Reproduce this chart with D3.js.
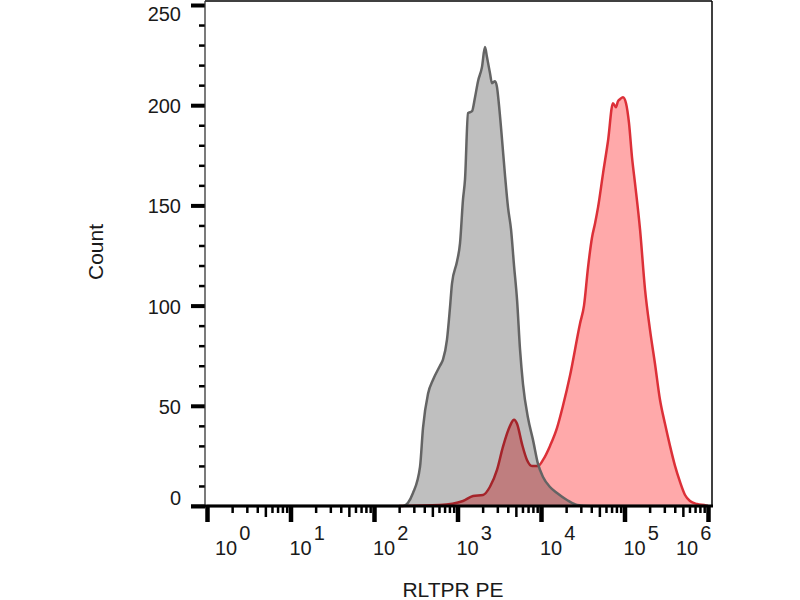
<!DOCTYPE html>
<html>
<head>
<meta charset="utf-8">
<script src="https://cdn.jsdelivr.net/npm/d3@7/dist/d3.min.js"></script>
<style>
  html, body { margin: 0; padding: 0; background: #fff; }
  svg { display: block; }
  text { font-family: "Liberation Sans", Arial, sans-serif; fill: #1a1a1a; }
</style>
</head>
<body>
<svg id="chart" width="800" height="600"></svg>
<script>
// ---- Data (x = log10 of fluorescence intensity, y = cell count) ----
const isotypeLog   = [0, 2.347, 2.467, 2.551, 2.587, 2.647, 2.707, 2.790, 2.826, 2.874, 2.910, 2.934, 2.994, 3.030, 3.066, 3.090, 3.126, 3.174, 3.210, 3.246, 3.293, 3.329, 3.353, 3.389, 3.413, 3.449, 3.473, 3.497, 3.533, 3.569, 3.605, 3.641, 3.677, 3.713, 3.749, 3.784, 3.844, 3.904, 3.964, 4.024, 4.108, 4.192, 4.311, 4.431, 4.587, 6];
const isotypeCount = [0, 0, 6.5, 19.5, 39, 56, 63, 70, 73, 83, 99, 111, 122, 131, 153, 163, 196, 197, 204, 212, 219, 229, 224, 216, 211, 212, 209, 200, 183, 165, 149, 138, 120, 103, 78, 61, 44, 33, 21, 14.5, 9.5, 6.5, 3, 0.5, 0, 0];

const stainedLog   = [2.3, 2.790, 3.066, 3.186, 3.305, 3.389, 3.473, 3.545, 3.629, 3.677, 3.713, 3.772, 3.832, 3.892, 3.964, 4.024, 4.108, 4.192, 4.263, 4.347, 4.467, 4.515, 4.563, 4.611, 4.647, 4.683, 4.743, 4.802, 4.862, 4.898, 4.922, 4.946, 4.982, 5.018, 5.054, 5.090, 5.126, 5.186, 5.246, 5.305, 5.365, 5.425, 5.485, 5.545, 5.605, 5.665, 5.725, 5.784, 5.868, 5.976, 6];
const stainedCount = [0, 0.5, 2.5, 5, 5.5, 9.6, 18, 29.6, 40, 43, 41, 31, 23, 20, 20, 23, 30, 39, 50, 65, 91, 100, 119, 134, 141, 149, 166, 182, 201, 199, 202, 203, 204, 201, 191, 174, 161, 138, 108, 88, 71, 53, 41, 30, 20, 12, 5.5, 2.5, 1, 0.3, 0];

const yMajorTicks = [0, 50, 100, 150, 200, 250];
const xDecades = [0, 1, 2, 3, 4, 5, 6];
const xTitle = "RLTPR PE";
const yTitle = "Count";

// ---- Layout ----
const svg = d3.select("#chart");
const x = d3.scaleLog().domain([1, 1e6]).range([207, 708]);
const y = d3.scaleLinear().domain([0, 250]).range([506, 5]);

const stained = stainedLog.map((v, i) => ({ v: Math.pow(10, v), c: stainedCount[i] }));
const isotype = isotypeLog.map((v, i) => ({ v: Math.pow(10, v), c: isotypeCount[i] }));

const area = d3.area().x(d => x(d.v)).y0(y(0)).y1(d => y(d.c)).curve(d3.curveMonotoneX);
const line = d3.line().x(d => x(d.v)).y(d => y(d.c)).curve(d3.curveMonotoneX);

// stained (red) histogram
svg.append("path").datum(stained).attr("d", area).attr("fill", "#ffa9aa");
svg.append("path").datum(stained).attr("d", line).attr("fill", "none")
  .attr("stroke", "#dc3038").attr("stroke-width", 2.5).attr("stroke-linejoin", "round");

// isotype (gray) histogram, translucent overlay
svg.append("path").datum(isotype).attr("d", area).attr("fill", "rgba(0,0,0,0.25)");
svg.append("path").datum(isotype).attr("d", line).attr("fill", "none")
  .attr("stroke", "#646464").attr("stroke-width", 2.5).attr("stroke-linejoin", "round");

// frame: top & right
svg.append("line").attr("x1", 205).attr("x2", 712).attr("y1", 1).attr("y2", 1)
  .attr("stroke", "#000").attr("stroke-width", 1.5);
svg.append("line").attr("x1", 712).attr("x2", 712).attr("y1", 1).attr("y2", 506)
  .attr("stroke", "#000").attr("stroke-width", 1.5);

// ---- Y axis ----
const yMinor = d3.range(0, 251, 10).filter(v => v % 50 !== 0);
const yAxisMinor = d3.axisLeft(y).tickValues(yMinor).tickSize(6).tickFormat("").tickSizeOuter(0);
const yAxisMajor = d3.axisLeft(y).tickValues(yMajorTicks).tickSize(14).tickFormat("").tickSizeOuter(0);
const gyMinor = svg.append("g").attr("transform", "translate(205,0)").call(yAxisMinor);
gyMinor.selectAll(".tick line").attr("stroke", "#000").attr("stroke-width", 2.5);
gyMinor.select(".domain").remove();
const gyMajor = svg.append("g").attr("transform", "translate(205,0)").call(yAxisMajor);
gyMajor.selectAll(".tick line").attr("stroke", "#000").attr("stroke-width", 4);
gyMajor.select(".domain").remove();
svg.append("line").attr("x1", 205).attr("x2", 205).attr("y1", 1).attr("y2", 506)
  .attr("stroke", "#333").attr("stroke-width", 1.3);

svg.append("g").selectAll("text").data(yMajorTicks).join("text")
  .attr("x", 181)
  .attr("y", d => y(d) + (d === 250 ? 9 : d === 0 ? -8 : 1))
  .attr("text-anchor", "end").attr("dominant-baseline", "central")
  .attr("font-size", 20).text(d => d);

// ---- X axis ----
const xMinor = [];
const xMid = [];
for (let d = 0; d < 6; d++) {
  for (let k = 2; k <= 9; k++) {
    (k === 5 ? xMid : xMinor).push(k * Math.pow(10, d));
  }
}
const xMajor = xDecades.map(d => Math.pow(10, d));
function xTicks(vals, size, width) {
  const g = svg.append("g").attr("transform", "translate(0,506)")
    .call(d3.axisBottom(x).tickValues(vals).tickSize(size).tickFormat("").tickSizeOuter(0));
  g.select(".domain").remove();
  g.selectAll(".tick line").attr("stroke", "#000").attr("stroke-width", width);
}
xTicks(xMinor, 7, 2.5);
xTicks(xMid, 11, 2.5);
xTicks(xMajor, 16, 4.5);
svg.append("line").attr("x1", 191).attr("x2", 713).attr("y1", 506).attr("y2", 506)
  .attr("stroke", "#000").attr("stroke-width", 3);

const lbl = svg.append("g").selectAll("text").data(xDecades).join("text")
  .attr("x", (d, i) => x(Math.pow(10, d)) + (i === 0 ? 8 : i === xDecades.length - 1 ? -32 : -1))
  .attr("y", 555).attr("font-size", 20);
lbl.append("tspan").text("10");
lbl.append("tspan").attr("dx", 2).attr("dy", -15).text(d => d);

// ---- Titles ----
svg.append("text").attr("x", 453).attr("y", 597).attr("text-anchor", "middle")
  .attr("font-size", 21).text(xTitle);
svg.append("text").attr("transform", "translate(103,252) rotate(-90)")
  .attr("text-anchor", "middle").attr("font-size", 21).text(yTitle);
</script>
</body>
</html>
